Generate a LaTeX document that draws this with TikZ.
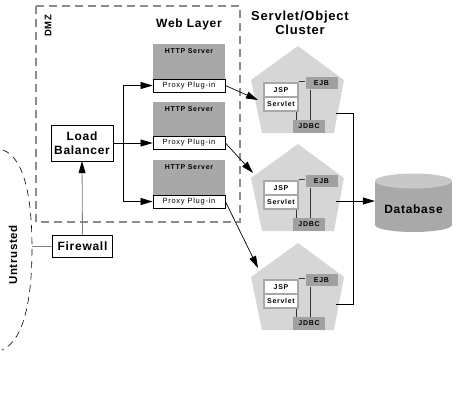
\documentclass[tikz,border=0pt]{standalone}
\usepackage{fontspec}
\setmainfont{Liberation Sans}
\newfontfamily\hv[LetterSpace=6]{Liberation Sans}
\newfontfamily\hvs[LetterSpace=10]{Liberation Sans}
\usetikzlibrary{arrows.meta,calc}
\definecolor{httpgray}{HTML}{A8A8A8}
\definecolor{pentgray}{HTML}{D6D6D6}
\definecolor{compgray}{HTML}{A0A0A0}
\definecolor{framegray}{HTML}{A8A8A8}
\definecolor{dbbody}{HTML}{A9A9A9}
\definecolor{dbtop}{HTML}{C8C8C8}
\definecolor{dmzgray}{HTML}{8C8C8C}
\definecolor{linegray}{HTML}{808080}
\begin{document}
\begin{tikzpicture}[x=1pt,y=-1pt,
  tip/.style={-{Triangle[length=12pt,width=7pt,color=black]}},
  conn/.style={draw=black, line width=0.7pt},
  head/.style={font=\hv\bfseries\fontsize{12}{14}\selectfont, inner sep=0pt, align=center},
  httpbox/.style={fill=httpgray, minimum width=72pt, inner xsep=0pt, inner ysep=3pt,
    text height=6pt, text depth=23pt, anchor=north, font=\hvs\bfseries\fontsize{7}{8}\selectfont},
  proxybox/.style={draw=black, line width=0.8pt, fill=white, minimum width=72pt, minimum height=13pt,
    inner sep=0pt, font=\hvs\fontsize{7.5}{9}\selectfont},
  bigbox/.style={draw=black, fill=white, inner sep=0pt, align=center,
    font=\hv\bfseries\fontsize{12}{14}\selectfont},
  framebox/.style={fill=framegray, minimum width=36pt, minimum height=30pt, inner sep=0pt},
  whitebox/.style={fill=white, minimum width=32pt, minimum height=12pt, inner sep=0pt,
    font=\hvs\bfseries\fontsize{7}{8}\selectfont},
  compbox/.style={fill=compgray, minimum width=32pt, minimum height=12pt, inner sep=0pt,
    font=\hvs\bfseries\fontsize{7}{8}\selectfont},
  inner/.style={draw=black!80, line width=1.2pt},
  rot/.style={rotate=90, inner sep=0pt, font=\hv\bfseries\fontsize{11.5}{13}\selectfont}
]
\useasboundingbox (0,0) rectangle (456,400);

% DMZ region
\draw[dmzgray, line width=1.5pt, dash pattern=on 8pt off 5pt] (36,6) rectangle (240,222);
\node[rot, font=\hv\bfseries\fontsize{9.5}{11}\selectfont] (dmz) at (48,26) {DMZ};
\node[head] (web) at (189,24) {Web Layer};
\node[head, font=\hv\bfseries\fontsize{13}{14}\selectfont] (cluster) at (300,23) {Servlet/Object\\Cluster};

% Untrusted
\draw[black, line width=0.6pt, dash pattern=on 7pt off 5pt]
  (3,150) .. controls (25,158) and (32,200) .. (32,248)
          .. controls (32,296) and (25,340) .. (2,350);
\node[rot] (untr) at (13,255) {Untrusted};
\coordinate (ucurve) at (32,246.5);

% Web servers
\foreach \i/\t in {1/44,2/102,3/160}{
  \node[httpbox] (h\i) at (189,\t) {HTTP Server};
}
\node[proxybox] (p1) at (189,85.5) {Proxy Plug-in};
\node[proxybox] (p2) at (189,143) {Proxy Plug-in};
\node[proxybox] (p3) at (189,201.5) {Proxy Plug-in};

% Load balancer and firewall
\node[bigbox, minimum width=62pt, minimum height=36pt] (lb) at (82,143) {Load\\Balancer};
\node[bigbox, line width=1.5pt, minimum width=60pt, minimum height=22pt] (fw) at (82.5,246.5) {Firewall};

\coordinate (jt) at (123,85.5);
\coordinate (jb) at (123,201.5);
\draw[conn, tip] (lb.east) -- (p2.west);
\draw[conn] (jt) -- (jb);
\draw[conn, tip] (jt) -- (p1.west);
\draw[conn, tip] (jb) -- (p3.west);
\draw[linegray, line width=0.8pt, tip] (fw.north) -- (lb.south);
\draw[linegray, line width=0.8pt] (fw.west) -- (ucurve);

% Cluster pentagons
\foreach \i/\dy in {1/0,2/98,3/197}{
\begin{scope}[shift={(0,\dy)}]
  \fill[pentgray] (298,46) -- (344,80) -- (334,133) -- (262,133) -- (251,80) -- cycle;
  \node[framebox] (fr\i) at (281,97) {};
  \node[whitebox] (jsp\i) at (281,90) {JSP};
  \node[whitebox] (srv\i) at (281,104) {Servlet};
  \node[compbox] (ejb\i) at (321.5,83.3) {EJB};
  \node[compbox, minimum height=12.5pt] (jdbc\i) at (309,126.3) {JDBC};
  \draw[inner] (fr\i.north east) -- (fr\i.north east -| ejb\i.west);
  \draw[inner] ([xshift=5.5pt]ejb\i.south west) -- ([xshift=5.5pt]ejb\i.south west |- jdbc\i.north);
  \draw[inner] ([xshift=-3pt]fr\i.south east) -- ([xshift=-3pt]fr\i.south east |- jdbc\i.north);
\end{scope}
}

% Arrows proxy -> cluster
\coordinate (in1) at (258,100);
\coordinate (in2) at (253,173);
\coordinate (in3) at (258,268);
\draw[conn, tip] (p1.east) -- (in1);
\draw[conn, tip] (p2.east) -- (in2);
\draw[conn, tip] (p3.east) -- (in3);

% Database
\node[minimum width=77pt, minimum height=59pt, inner sep=0pt] (db) at (413.5,201) {};
\fill[dbbody] (375,181) rectangle (452,225);
\fill[dbbody] (413.5,225) ellipse [x radius=38.5pt, y radius=7pt];
\fill[dbtop] (413.5,181) ellipse [x radius=38.5pt, y radius=7.5pt];
\node[inner sep=0pt, font=\hv\bfseries\fontsize{12}{14}\selectfont] (dbt) at (413.5,209) {Database};

% Cluster -> database
\coordinate (out1) at (336,113);
\coordinate (out2) at (336,201);
\coordinate (out3) at (336,304);
\coordinate (bus1) at (353,113);
\coordinate (bus3) at (353,304);
\draw[conn] (out1) -- (bus1) -- (bus3) -- (out3);
\draw[conn, tip] (out2) -- (db.west);
\end{tikzpicture}
\end{document}
